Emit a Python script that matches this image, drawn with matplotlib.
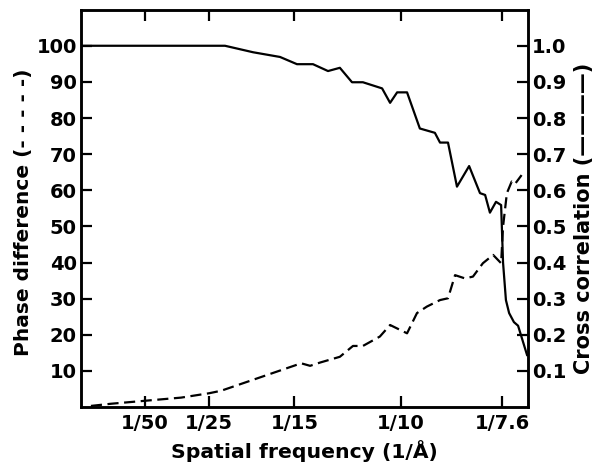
import matplotlib
matplotlib.use("Agg")
import matplotlib.pyplot as plt

plt.rcParams['font.family'] = ['DejaVu Sans']
plt.rcParams['font.weight'] = 'bold'

# Cross correlation (solid), x in 1/Å
cc_freq = [0.0, 0.045, 0.0538, 0.0622, 0.0675, 0.0725, 0.0772, 0.0809, 0.0847, 0.0881,
           0.0941, 0.0966, 0.0988, 0.1019, 0.1059, 0.1106, 0.1122, 0.1147, 0.1175, 0.1213,
           0.1247, 0.1263, 0.1278, 0.1297, 0.1313, 0.1319, 0.1328, 0.1338, 0.1353, 0.1366, 0.1394]
cc_vals = [1.0, 1.0, 0.982, 0.969, 0.949, 0.949, 0.930, 0.939, 0.899, 0.899,
           0.882, 0.842, 0.871, 0.871, 0.771, 0.759, 0.732, 0.732, 0.610, 0.667,
           0.592, 0.587, 0.538, 0.568, 0.559, 0.40, 0.296, 0.260, 0.235, 0.225, 0.144]

# Phase difference (dashed), degrees
ph_freq = [0.0031, 0.0094, 0.0197, 0.0313, 0.0400, 0.0438, 0.0688, 0.0716, 0.0747, 0.0809,
           0.0850, 0.0881, 0.0934, 0.0966, 0.1019, 0.1050, 0.1081, 0.1122, 0.1147, 0.1169,
           0.1200, 0.1225, 0.1256, 0.1288, 0.1313, 0.1319, 0.1331, 0.1346, 0.1356, 0.1377]
ph_vals = [0.3, 0.9, 1.7, 2.6, 3.8, 4.5, 12.1, 11.4, 12.3, 13.9,
           16.9, 16.9, 19.5, 22.7, 20.4, 26.0, 27.8, 29.6, 30.1, 36.5,
           35.6, 36.1, 39.8, 42.1, 39.8, 49.9, 59.2, 62.4, 61.7, 64.2]

xtick_pos = [1/50, 1/25, 1/15, 1/10, 1/7.6]
xtick_lab = ['1/50', '1/25', '1/15', '1/10', '1/7.6']
left_ticks = [10, 20, 30, 40, 50, 60, 70, 80, 90, 100]
right_ticks = [0.1, 0.2, 0.3, 0.4, 0.5, 0.6, 0.7, 0.8, 0.9, 1.0]

fig = plt.figure(figsize=(6.01, 4.74), dpi=100)
ax = fig.add_axes([81/601, 1-407/474, (528-81)/601, (407-10)/474])
ax2 = ax.twinx()

ax.plot(ph_freq, ph_vals, color='black', lw=1.6, linestyle=(0, (5, 2.5)))
ax2.plot(cc_freq, cc_vals, color='black', lw=1.6)

ax.set_xlim(0, 0.1397)
ax.set_ylim(0, 109.9)
ax2.set_ylim(0, 1.099)

ax.set_xticks(xtick_pos)
ax.set_xticklabels(xtick_lab)
ax.set_yticks(left_ticks)
ax.set_yticklabels([str(v) for v in left_ticks])
ax2.set_yticks(right_ticks)
ax2.set_yticklabels([f'{v:.1f}' for v in right_ticks])

for a in (ax, ax2):
    for s in a.spines.values():
        s.set_linewidth(1.8)
ax.tick_params(axis='x', which='both', direction='in', length=8, width=1.6,
               top=True, labelsize=14, pad=5)
ax.tick_params(axis='y', direction='in', length=8, width=1.6, right=False,
               labelsize=14, pad=3)
ax2.tick_params(axis='y', direction='in', length=8, width=1.6, labelsize=14, pad=3)

ax.set_xlabel('Spatial frequency (1/Å)', fontsize=14.7, fontweight='bold', labelpad=5)
ax.set_ylabel('Phase difference (- - - - -)', fontsize=14.5, fontweight='bold')
ax2.set_ylabel('Cross correlation (————)', fontsize=15, fontweight='bold')
ax.yaxis.set_label_coords(-0.108, 0.49)
ax2.yaxis.set_label_coords(1.103, 0.476)

fig.savefig('out.png', dpi=100)
